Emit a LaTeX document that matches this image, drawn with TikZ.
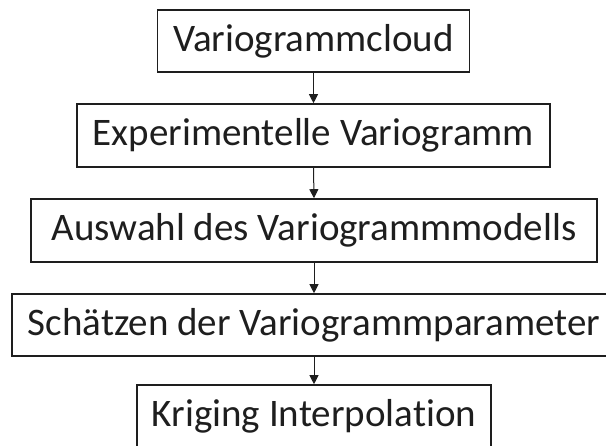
\documentclass[tikz,border=0pt]{standalone}
\usepackage{fontspec}
\setmainfont[Ligatures=CommonOff]{Carlito}
\usetikzlibrary{arrows.meta}
\definecolor{ink}{HTML}{1E1E1E}
\tikzset{
  stage/.style={draw=ink, line width=1.6pt, text=ink, inner sep=0pt,
    font=\fontsize{39pt}{42pt}\selectfont, anchor=center},
  flow/.style={draw=ink, line width=1pt, -{Triangle[length=9pt,width=9pt]}}
}
\begin{document}
\begin{tikzpicture}[x=1pt,y=-1pt]
\useasboundingbox (0,0) rectangle (606,446);
\clip (0,0) rectangle (606,446);
\node[stage, minimum width=312pt, minimum height=62pt] (cloud) at (313.5,41) {Variogrammcloud};
\node[stage, minimum width=473pt, minimum height=63pt] (exp) at (313.5,135.5) {Experimentelle Variogramm};
\node[stage, minimum width=566pt, minimum height=63pt] (model) at (314,230.5) {Auswahl des Variogrammmodells};
\node[stage, minimum width=604pt, minimum height=62pt] (param) at (314,325) {Schätzen der Variogrammparameter};
\node[stage, minimum width=354pt, minimum height=62pt] (krig) at (314,416) {Kriging Interpolation};
\draw[flow] (cloud.south) -- (exp.north);
\draw[flow] (exp.south) -- (model.north);
\draw[flow] (model.south) -- (param.north);
\draw[flow] (param.south) -- (krig.north);
\end{tikzpicture}
\end{document}
